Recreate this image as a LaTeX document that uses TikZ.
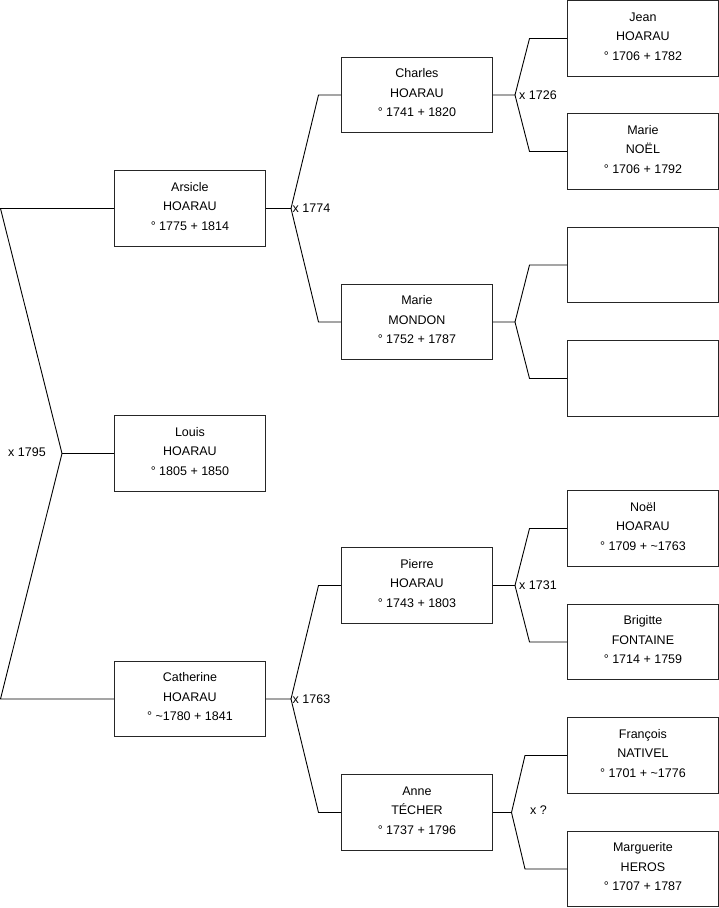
\documentclass[tikz,border=0pt]{standalone}
\usepackage{fontspec}
\setmainfont{Liberation Sans}
\newcommand\who[3]{\raisebox{1.5pt}[\height][\depth]{\begin{tabular}{@{}c@{}}#1\\#2\\#3\end{tabular}}}
\begin{document}
\begin{tikzpicture}[x=1pt,y=-1pt,
  person/.style={draw=black!85, line width=0.9pt, minimum width=151pt, minimum height=75.5pt,
    anchor=west, align=center, inner sep=0pt, font=\fontsize{12.5}{19.5}\selectfont},
  link/.style={line width=0.9pt, line join=miter},
  lab/.style={font=\fontsize{12.5}{14}\selectfont, inner sep=1.5pt}]
\useasboundingbox (0,0) rectangle (719,908);

% level 1
\node[person] (arsicle) at (114,208.5) {\who{Arsicle}{HOARAU}{° 1775 + 1814}};
\node[person] (louis) at (114,453.5) {\who{Louis}{HOARAU}{° 1805 + 1850}};
\node[person] (catherine) at (114,699) {\who{Catherine}{HOARAU}{° \textasciitilde1780 + 1841}};

% level 2
\node[person] (charles) at (341,95) {\who{Charles}{HOARAU}{° 1741 + 1820}};
\node[person] (marie) at (341,322) {\who{Marie}{MONDON}{° 1752 + 1787}};
\node[person] (pierre) at (341,585.5) {\who{Pierre}{HOARAU}{° 1743 + 1803}};
\node[person] (anne) at (341,812.5) {\who{Anne}{TÉCHER}{° 1737 + 1796}};

% level 3
\node[person] (jean) at (567,38.5) {\who{Jean}{HOARAU}{° 1706 + 1782}};
\node[person] (marien) at (567,151.5) {\who{Marie}{NOËL}{° 1706 + 1792}};
\node[person] (e1) at (567,265) {};
\node[person] (e2) at (567,378.5) {};
\node[person] (noel) at (567,528.5) {\who{Noël}{HOARAU}{° 1709 + \textasciitilde1763}};
\node[person] (brigitte) at (567,642) {\who{Brigitte}{FONTAINE}{° 1714 + 1759}};
\node[person] (francois) at (567,755.5) {\who{François}{NATIVEL}{° 1701 + \textasciitilde1776}};
\node[person] (marguerite) at (567,869) {\who{Marguerite}{HEROS}{° 1707 + 1787}};

% root bracket
\coordinate (j0) at (62,453.5);
\coordinate (r1) at (0.5,208.5);
\coordinate (r2) at (0.5,699);
\draw[link] (arsicle.west) -- (r1) -- (j0) -- (r2) -- (catherine.west);
\draw[link] (j0) -- (louis.west);
\node[lab] at (27,452) {x 1795};

% Arsicle parents
\coordinate (ja) at (291,208.5);
\coordinate (ja1) at (318.5,95);
\coordinate (ja2) at (318.5,322);
\draw[link] (arsicle.east) -- (ja) -- (ja1) -- (charles.west);
\draw[link] (ja) -- (ja2) -- (marie.west);
\node[lab, anchor=west] at (ja) {x 1774};

% Catherine parents
\coordinate (jc) at (291,699);
\coordinate (jc1) at (318.5,585.5);
\coordinate (jc2) at (318.5,812.5);
\draw[link] (catherine.east) -- (jc) -- (jc1) -- (pierre.west);
\draw[link] (jc) -- (jc2) -- (anne.west);
\node[lab, anchor=west] at (jc) {x 1763};

% Charles parents
\coordinate (jch) at (515,95);
\coordinate (jch1) at (529.5,38.5);
\coordinate (jch2) at (529.5,151.5);
\draw[link] (charles.east) -- (jch) -- (jch1) -- (jean.west);
\draw[link] (jch) -- (jch2) -- (marien.west);
\node[lab, anchor=west, xshift=2.5pt] at (jch) {x 1726};

% Marie MONDON parents
\coordinate (jm) at (515,322);
\coordinate (jm1) at (529.5,265);
\coordinate (jm2) at (529.5,378.5);
\draw[link] (marie.east) -- (jm) -- (jm1) -- (e1.west);
\draw[link] (jm) -- (jm2) -- (e2.west);

% Pierre parents
\coordinate (jp) at (515,585.5);
\coordinate (jp1) at (529.5,528.5);
\coordinate (jp2) at (529.5,642);
\draw[link] (pierre.east) -- (jp) -- (jp1) -- (noel.west);
\draw[link] (jp) -- (jp2) -- (brigitte.west);
\node[lab, anchor=west, xshift=2.5pt] at (jp) {x 1731};

% Anne parents
\coordinate (jn) at (511.5,812.5);
\coordinate (jn1) at (525,755.5);
\coordinate (jn2) at (525,869);
\draw[link] (anne.east) -- (jn) -- (jn1) -- (francois.west);
\draw[link] (jn) -- (jn2) -- (marguerite.west);
\node[lab] at (538.5,810) {x ?};
\end{tikzpicture}
\end{document}
